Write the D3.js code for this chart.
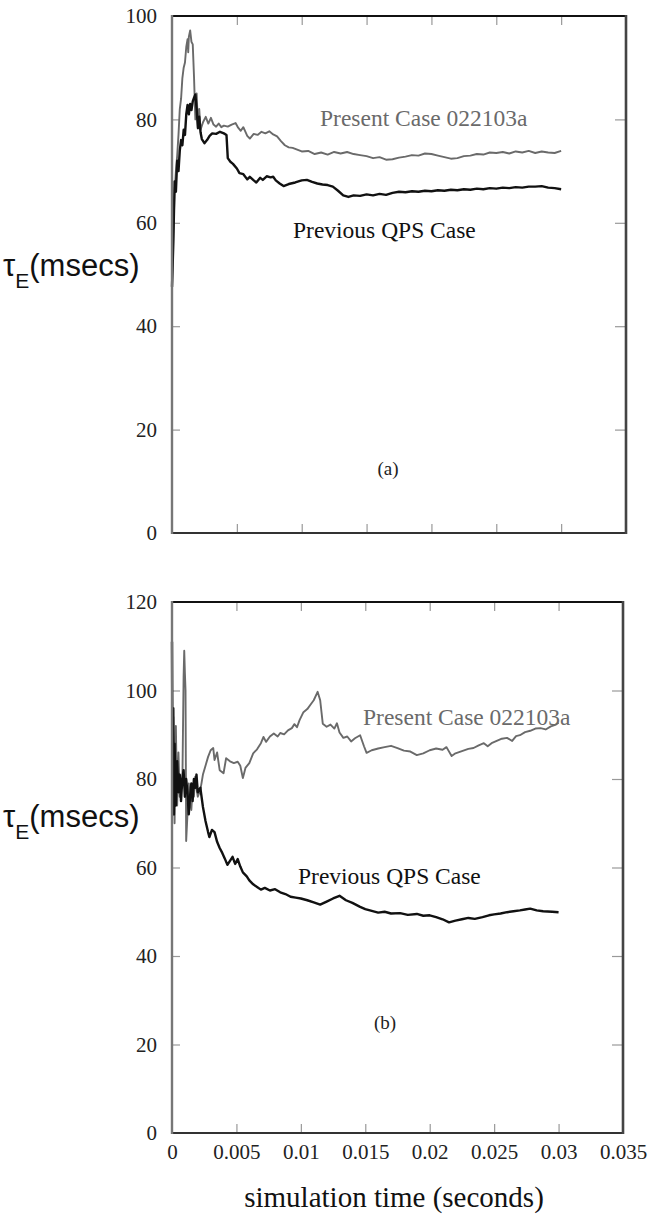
<!DOCTYPE html>
<html>
<head>
<meta charset="utf-8">
<script src="https://cdn.jsdelivr.net/npm/d3@7"></script>
<style>
  body { margin: 0; background: #fff; }
  svg { display: block; }
  .tick text { font-family: "Liberation Serif", "Times New Roman", serif; font-size: 21px; fill: #222; }
  .tick line { stroke: #999; stroke-width: 1.2; }
  .serieslabel { font-family: "Liberation Serif", "Times New Roman", serif; font-size: 23.5px; }
  .panellabel { font-family: "Liberation Serif", "Times New Roman", serif; font-size: 19px; fill: #222; }
  .ylab { font-family: "Liberation Sans", Arial, sans-serif; fill: #111; }
</style>
</head>
<body>
<svg id="chart" width="650" height="1226"></svg>
<script>
// [time (s), tau_E (msecs)]
var topPresent = [
  [0, 47], [0.0001, 58], [0.0002, 66], [0.0003, 70], [0.0004, 73], [0.0005, 77], [0.0006, 82],
  [0.0007, 84], [0.0008, 88], [0.0009, 90], [0.001, 91], [0.0011, 94], [0.0012, 95.5], [0.00125, 93],
  [0.0013, 96], [0.0014, 97.2], [0.0015, 95], [0.0016, 94.5], [0.0017, 88], [0.0018, 80], [0.0019, 85],
  [0.002, 78.5], [0.0021, 82], [0.0022, 78], [0.0024, 79.5], [0.0026, 80.5], [0.0028, 79.2], [0.003, 80.3],
  [0.0032, 79], [0.0034, 78.6], [0.0036, 79.2], [0.0038, 78.5], [0.004, 78.8], [0.0043, 78.6], [0.0046, 79],
  [0.0049, 79.3], [0.0051, 78.4], [0.0053, 77.8], [0.0055, 78.5], [0.0058, 76.8], [0.006, 76.3], [0.0063, 77.2],
  [0.0066, 77.0], [0.0069, 77.6], [0.0072, 77.3], [0.0075, 77.7], [0.0078, 77.1], [0.0081, 76.7], [0.0084, 75.8],
  [0.0087, 75.0], [0.009, 74.6], [0.0093, 74.5], [0.0096, 74.2], [0.01, 73.8], [0.0105, 73.9], [0.011, 73.3],
  [0.0115, 73.6], [0.012, 73.2], [0.0125, 73.7], [0.013, 73.4], [0.0135, 73.7], [0.014, 73.3], [0.0145, 73.1],
  [0.015, 72.9], [0.0155, 72.5], [0.016, 72.7], [0.0165, 72.2], [0.017, 72.3], [0.0175, 72.6], [0.018, 72.8],
  [0.0185, 73.1], [0.019, 73.0], [0.0195, 73.4], [0.02, 73.3], [0.0205, 73.0], [0.021, 72.7], [0.0215, 72.4],
  [0.022, 72.5], [0.0225, 72.9], [0.023, 73.0], [0.0235, 73.3], [0.024, 73.2], [0.0245, 73.6], [0.025, 73.5],
  [0.0255, 73.7], [0.026, 73.4], [0.0265, 73.8], [0.027, 73.6], [0.0275, 73.9], [0.028, 73.5], [0.0285, 73.8],
  [0.029, 73.6], [0.0295, 73.5], [0.03, 73.9]
];

var topPrevious = [
  [0, 47.6], [0.0001, 56], [0.0002, 68], [0.0003, 66], [0.0004, 72], [0.0005, 70], [0.0006, 74], [0.0007, 76],
  [0.0008, 75], [0.0009, 78], [0.001, 77], [0.0011, 81], [0.0012, 82.8], [0.0013, 81], [0.0014, 83], [0.0015, 81.8],
  [0.0016, 83.5], [0.0017, 84.2], [0.0018, 84.8], [0.0019, 82], [0.002, 78.3], [0.0021, 80.5], [0.0022, 77.5],
  [0.0023, 76.2], [0.0025, 75.4], [0.0027, 76.0], [0.0029, 76.8], [0.0031, 77.3], [0.0034, 77.2], [0.0037, 77.6],
  [0.004, 77.3], [0.0042, 77.0], [0.0043, 72.5], [0.0045, 71.8], [0.0047, 71.4], [0.005, 70.5], [0.0052, 69.6],
  [0.0055, 69.4], [0.0058, 68.4], [0.006, 68.9], [0.0063, 68.2], [0.0065, 67.8], [0.0068, 68.7], [0.007, 68.3],
  [0.0073, 69.0], [0.0076, 68.8], [0.0078, 68.9], [0.008, 68.2], [0.0083, 67.6], [0.0086, 67.1], [0.009, 67.5],
  [0.0095, 67.8], [0.01, 68.2], [0.0104, 68.3], [0.0108, 67.9], [0.0112, 67.6], [0.0116, 67.4], [0.012, 67.3],
  [0.0124, 67.0], [0.0128, 66.2], [0.0132, 65.3], [0.0136, 65.0], [0.014, 65.3], [0.0145, 65.2], [0.015, 65.5],
  [0.0155, 65.3], [0.016, 65.6], [0.0165, 65.4], [0.017, 65.8], [0.0175, 66.0], [0.018, 65.9], [0.0185, 66.1],
  [0.019, 66.0], [0.0195, 66.2], [0.02, 66.1], [0.0205, 66.3], [0.021, 66.2], [0.0215, 66.4], [0.022, 66.3],
  [0.0225, 66.5], [0.023, 66.4], [0.0235, 66.6], [0.024, 66.5], [0.0245, 66.7], [0.025, 66.6], [0.0255, 66.8],
  [0.026, 66.7], [0.0265, 66.9], [0.027, 66.8], [0.0275, 67.0], [0.028, 67.0], [0.0285, 67.1], [0.029, 66.8],
  [0.0295, 66.7], [0.03, 66.5]
];

var bottomPresent = [
  [0, 101], [0.00005, 72], [0.0001, 94], [0.0002, 70], [0.0003, 92], [0.0004, 74], [0.0005, 86], [0.0006, 76],
  [0.0007, 80], [0.0008, 78], [0.0009, 103], [0.00095, 109], [0.001, 104], [0.00105, 100], [0.0011, 66],
  [0.0012, 72], [0.0013, 79], [0.0014, 75], [0.0015, 73], [0.0016, 78], [0.0017, 76], [0.0018, 80.5], [0.0019, 78],
  [0.002, 76], [0.0022, 77.5], [0.0024, 81], [0.0026, 83], [0.0028, 85], [0.003, 86.5], [0.0032, 87], [0.0033, 84.3],
  [0.0035, 86], [0.0037, 82], [0.004, 81.3], [0.0042, 84.7], [0.0045, 84], [0.0048, 83.6], [0.0051, 83.9],
  [0.0053, 83.0], [0.0055, 80.2], [0.0057, 82.5], [0.006, 83.6], [0.0063, 85.8], [0.0066, 86.7], [0.0069, 88.1],
  [0.0071, 89.5], [0.0073, 88.4], [0.0076, 89.6], [0.0079, 90.3], [0.0082, 89.6], [0.0084, 90.4], [0.0087, 90.1],
  [0.009, 91.0], [0.0093, 91.5], [0.0095, 92.4], [0.0097, 91.7], [0.0099, 93.3], [0.0102, 95.1], [0.0105, 95.8],
  [0.0108, 97.0], [0.011, 97.8], [0.0113, 99.7], [0.0115, 97.8], [0.0117, 92.5], [0.012, 91.8], [0.0123, 92.3],
  [0.0126, 91.4], [0.0128, 92.6], [0.013, 90.5], [0.0133, 89.3], [0.0136, 89.6], [0.0139, 88.5], [0.0142, 89.2],
  [0.0146, 89.9], [0.0149, 87.4], [0.0151, 85.9], [0.0155, 86.5], [0.016, 86.9], [0.0165, 87.2], [0.017, 87.5],
  [0.0175, 87.0], [0.018, 86.4], [0.0185, 86.2], [0.019, 85.4], [0.0195, 85.8], [0.02, 86.5], [0.0205, 86.9],
  [0.021, 86.6], [0.0213, 87.2], [0.0217, 85.2], [0.022, 85.8], [0.0225, 86.3], [0.023, 86.8], [0.0234, 87.0],
  [0.0238, 87.6], [0.0242, 88.1], [0.0245, 87.4], [0.0248, 88.1], [0.0252, 88.6], [0.0256, 89.1], [0.026, 89.3],
  [0.0264, 88.6], [0.0267, 89.7], [0.027, 89.9], [0.0274, 90.6], [0.0278, 90.9], [0.0282, 91.4], [0.0286, 91.5],
  [0.029, 91.2], [0.0294, 91.9], [0.0298, 92.3], [0.03, 92.7]
];

var bottomPrevious = [
  [0, 111], [0.00005, 78], [0.0001, 96], [0.00015, 72], [0.0002, 88], [0.0003, 74], [0.0004, 84], [0.0005, 77],
  [0.0006, 81], [0.0007, 75], [0.0008, 80], [0.0009, 82], [0.001, 76], [0.0011, 80], [0.0012, 77], [0.0013, 72],
  [0.0014, 76], [0.0015, 79], [0.0016, 75], [0.0017, 80], [0.0018, 78], [0.0019, 81], [0.002, 77], [0.0022, 78],
  [0.0024, 73.7], [0.0026, 70.5], [0.0028, 68.0], [0.0029, 66.9], [0.0031, 68.5], [0.0033, 68.0], [0.0035, 65.8],
  [0.0037, 64.4], [0.0039, 63.3], [0.0041, 62.0], [0.0043, 60.6], [0.0045, 61.5], [0.0047, 62.4], [0.0049, 60.8],
  [0.0051, 61.9], [0.0053, 60.2], [0.0055, 58.9], [0.0058, 58.0], [0.006, 57.1], [0.0063, 56.2], [0.0066, 55.6],
  [0.0069, 55.0], [0.0072, 55.4], [0.0076, 54.8], [0.008, 55.1], [0.0084, 54.4], [0.0088, 54.0], [0.0092, 53.4],
  [0.0096, 53.2], [0.01, 53.0], [0.0105, 52.6], [0.011, 52.1], [0.0115, 51.6], [0.012, 52.3], [0.0125, 53.0],
  [0.013, 53.6], [0.0135, 52.6], [0.014, 52.0], [0.0146, 51.1], [0.015, 50.6], [0.0155, 50.2], [0.016, 49.8],
  [0.0165, 50.0], [0.017, 49.6], [0.0177, 49.7], [0.0183, 49.3], [0.019, 49.5], [0.0195, 49.1], [0.02, 49.2],
  [0.0205, 48.8], [0.021, 48.3], [0.0215, 47.6], [0.022, 48.0], [0.0225, 48.3], [0.023, 48.6], [0.0235, 48.4],
  [0.0241, 48.8], [0.0246, 49.2], [0.025, 49.4], [0.0255, 49.6], [0.026, 49.9], [0.0265, 50.1], [0.027, 50.3],
  [0.0274, 50.5], [0.0278, 50.7], [0.0283, 50.3], [0.0288, 50.1], [0.0295, 50.0], [0.03, 49.9]
];

var xTicks = [0, 0.005, 0.01, 0.015, 0.02, 0.025, 0.03, 0.035];
var topYTicks = [0, 20, 40, 60, 80, 100];
var bottomYTicks = [0, 20, 40, 60, 80, 100, 120];

var svg = d3.select('#chart');

function drawPanel(cfg) {
    var x = d3.scaleLinear().domain([0, 0.035]).range([cfg.left, cfg.right]);
    var y = d3.scaleLinear().domain([0, cfg.yMax]).range([cfg.bottom, cfg.top]);
    var g = svg.append('g');
    var inner = xTicks.slice(1, -1);
    var innerY = cfg.yTicks.slice(1, -1);

    // inward ticks on all four sides
    g.append('g')
        .attr('transform', 'translate(0,' + cfg.bottom + ')')
        .call(d3.axisBottom(x).tickValues(inner).tickSize(-9).tickFormat(''));
    g.append('g')
        .attr('transform', 'translate(0,' + cfg.top + ')')
        .call(d3.axisTop(x).tickValues(inner).tickSize(-9).tickFormat(''));
    g.append('g')
        .attr('transform', 'translate(' + cfg.right + ',0)')
        .call(d3.axisRight(y).tickValues(innerY).tickSize(-11).tickFormat(''));
    var yAxis = g.append('g')
        .attr('transform', 'translate(' + cfg.left + ',0)')
        .call(d3.axisLeft(y).tickValues(cfg.yTicks).tickSize(-8).tickPadding(15).tickFormat(d3.format('d')));
    yAxis.selectAll('.tick line').filter(d => d === 0 || d === cfg.yMax).remove();

    if (cfg.xLabels) {
        g.append('g')
            .attr('transform', 'translate(0,' + cfg.bottom + ')')
            .call(d3.axisBottom(x).tickValues(xTicks).tickSize(0).tickPadding(11)
                .tickFormat(d => d === 0 ? '0' : String(+d.toFixed(3))));
    }
    g.selectAll('.domain').remove();

    var line = d3.line().x(d => x(d[0])).y(d => y(d[1]));
    g.append('path').datum(cfg.present)
        .attr('fill', 'none').attr('stroke', '#6a6a6a').attr('stroke-width', 1.9)
        .attr('stroke-linejoin', 'round').attr('d', line);
    g.append('path').datum(cfg.previous)
        .attr('fill', 'none').attr('stroke', '#111').attr('stroke-width', 2.4)
        .attr('stroke-linejoin', 'round').attr('d', line);

    // frame
    g.append('line').attr('x1', cfg.left).attr('x2', cfg.right).attr('y1', cfg.top).attr('y2', cfg.top)
        .attr('stroke', '#111').attr('stroke-width', 2.2);
    g.append('line').attr('x1', cfg.left).attr('x2', cfg.right + 1).attr('y1', cfg.bottom).attr('y2', cfg.bottom)
        .attr('stroke', '#333').attr('stroke-width', 2.2);
    g.append('line').attr('x1', cfg.left).attr('x2', cfg.left).attr('y1', cfg.top - 1).attr('y2', cfg.bottom + 1)
        .attr('stroke', '#777').attr('stroke-width', 2.4);
    g.append('line').attr('x1', cfg.right).attr('x2', cfg.right).attr('y1', cfg.top - 1).attr('y2', cfg.bottom + 1)
        .attr('stroke', '#444').attr('stroke-width', 2.6);

    g.append('text').classed('serieslabel', true)
        .attr('x', cfg.presentLabel[0]).attr('y', cfg.presentLabel[1])
        .attr('fill', '#6a6a6a').text('Present Case 022103a');
    g.append('text').classed('serieslabel', true)
        .attr('x', cfg.previousLabel[0]).attr('y', cfg.previousLabel[1])
        .attr('fill', '#111').text('Previous QPS Case');
    g.append('text').classed('panellabel', true)
        .attr('x', cfg.panelLabel[0]).attr('y', cfg.panelLabel[1])
        .attr('text-anchor', 'middle').text(cfg.tag);

    var yl = g.append('text').classed('ylab', true)
        .attr('x', 3).attr('y', cfg.yLabelY);
    yl.append('tspan').style('font-size', '31px').text('\u03C4');
    yl.append('tspan').style('font-size', '21px').attr('dy', 12).text('E');
    yl.append('tspan').style('font-size', '31px').attr('dy', -12).text('(msecs)');
}

drawPanel({
    left: 172, right: 626, top: 16, bottom: 533, yMax: 100, yTicks: topYTicks,
    present: topPresent, previous: topPrevious, xLabels: false, tag: '(a)',
    presentLabel: [320, 126], previousLabel: [293, 238], panelLabel: [388, 475], yLabelY: 276
});

drawPanel({
    left: 172, right: 623, top: 602, bottom: 1133, yMax: 120, yTicks: bottomYTicks,
    present: bottomPresent, previous: bottomPrevious, xLabels: true, tag: '(b)',
    presentLabel: [363, 725], previousLabel: [298, 884], panelLabel: [385, 1029], yLabelY: 827
});

svg.append('text')
    .attr('x', 394).attr('y', 1207)
    .attr('text-anchor', 'middle')
    .style('font-family', '"Liberation Serif", "Times New Roman", serif')
    .style('font-size', '29px')
    .attr('fill', '#111')
    .text('simulation time (seconds)');
</script>
</body>
</html>
